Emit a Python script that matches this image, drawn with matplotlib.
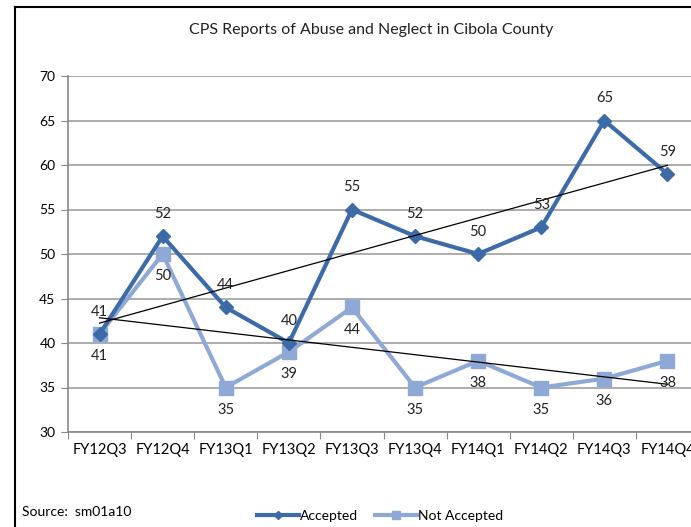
import matplotlib.pyplot as plt
import numpy as np
from matplotlib.lines import Line2D

quarters = ['FY12Q3', 'FY12Q4', 'FY13Q1', 'FY13Q2', 'FY13Q3',
            'FY13Q4', 'FY14Q1', 'FY14Q2', 'FY14Q3', 'FY14Q4']
accepted = [41, 52, 44, 40, 55, 52, 50, 53, 65, 59]
not_accepted = [41, 50, 35, 39, 44, 35, 38, 35, 36, 38]

dark_blue = '#3C6BA8'
light_blue = '#8FA9D6'

plt.rcParams['font.family'] = ['Lato', 'DejaVu Sans']

fig = plt.figure(figsize=(6.91, 5.27), dpi=100)
ax = fig.add_axes([68/691, 95/527, 631/691, 356/527])

x = np.arange(len(quarters))

ax.plot(x, accepted, color=dark_blue, lw=3, marker='D', ms=7, label='Accepted', zorder=4)
ax.plot(x, not_accepted, color=light_blue, lw=3, marker='s', ms=10, label='Not Accepted', zorder=3)

# linear trend lines
for series in (accepted, not_accepted):
  k, b = np.polyfit(x, series, 1)
  ax.plot([x[0], x[-1]], [b, k * x[-1] + b], color='black', lw=0.9, zorder=5)

for i, v in enumerate(accepted):
  ax.annotate(str(v), (i, v), xytext=(0, 11), textcoords='offset points',
              ha='center', va='bottom', fontsize=10.5, color='#222222', zorder=6)
for i, v in enumerate(not_accepted):
  ax.annotate(str(v), (i, v), xytext=(0, -11), textcoords='offset points',
              ha='center', va='top', fontsize=10.5, color='#222222', zorder=6)

ax.set_ylim(30, 70)
ax.set_yticks(range(30, 71, 5))
ax.set_xlim(-0.5, 9.5)
ax.set_xticks(np.arange(-0.5, 10, 1))
ax.set_xticklabels([])
ax.set_xticks(x, minor=True)
ax.set_xticklabels(quarters, minor=True)
ax.tick_params(axis='x', which='major', length=5, color='#888888', direction='out')
ax.tick_params(axis='x', which='minor', length=0, pad=8, labelsize=10.5)
ax.tick_params(axis='y', length=5, color='#888888', labelsize=10, pad=4)

ax.grid(axis='y', color='#A6A6A6', lw=1.3)
ax.set_axisbelow(True)
for side in ('top', 'right'):
  ax.spines[side].set_visible(False)
ax.spines['left'].set_color('#888888')
ax.spines['bottom'].set_color('#888888')
ax.spines['left'].set_linewidth(1.2)
ax.spines['bottom'].set_linewidth(1.2)

fig.text(371/691, 1 - 30/527, 'CPS Reports of Abuse and Neglect in Cibola County',
         ha='center', va='center', fontsize=11.5, color='#222222')
fig.text(22/691, 1 - 512/527, 'Source:  sm01a10', ha='left', va='center', fontsize=10)

fig.legend(loc='center', bbox_to_anchor=(380/691, 1 - 516/527), ncol=2, frameon=False,
           fontsize=10, handlelength=3, columnspacing=1.2, handletextpad=0.1,
           markerscale=0.6)

# outer chart border
fig.add_artist(Line2D([15/691, 15/691], [0, 1 - 7/527], color='black', lw=1.5))
fig.add_artist(Line2D([15/691, 1], [1 - 7/527, 1 - 7/527], color='black', lw=1.5))

plt.savefig('out.png', dpi=100)
